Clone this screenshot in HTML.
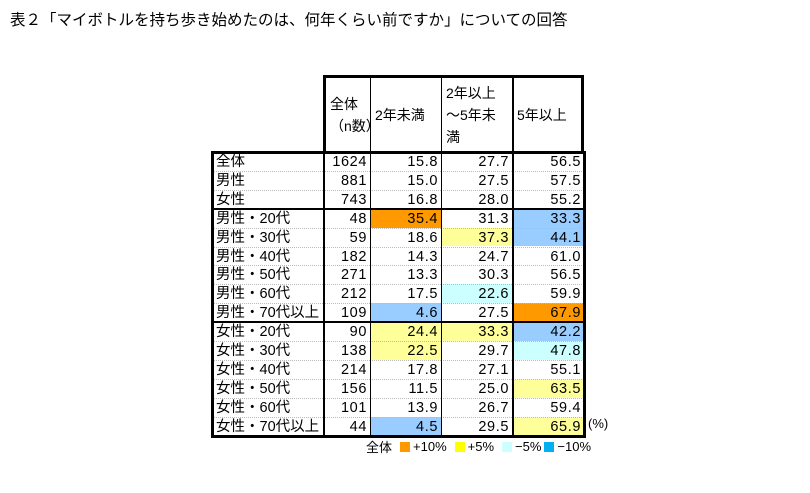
<!DOCTYPE html>
<html><head><meta charset="utf-8"><style>
body{margin:0;width:810px;height:493px;background:#fff;font-family:"Liberation Sans","Noto Sans CJK JP",sans-serif;overflow:hidden;position:relative}
.a{position:absolute;box-sizing:border-box}
.t{font-size:13px;color:#000;white-space:nowrap}
</style></head><body>
<div class="a t" style="left:10px;top:8px;font-size:15.5px">表２「マイボトルを持ち歩き始めたのは、何年くらい前ですか」についての回答</div>
<div id="tbl"></div>
<script>
const rowLabels=["全体","男性","女性","男性・20代","男性・30代","男性・40代","男性・50代","男性・60代","男性・70代以上","女性・20代","女性・30代","女性・40代","女性・50代","女性・60代","女性・70代以上"];
const nValues=[1624,881,743,48,59,182,271,212,109,90,138,214,156,101,44];
const lt2=[15.8,15.0,16.8,35.4,18.6,14.3,13.3,17.5,4.6,24.4,22.5,17.8,11.5,13.9,4.5];
const mid=[27.7,27.5,28.0,31.3,37.3,24.7,30.3,22.6,27.5,33.3,29.7,27.1,25.0,26.7,29.5];
const ge5=[56.5,57.5,55.2,33.3,44.1,61.0,56.5,59.9,67.9,42.2,47.8,55.1,63.5,59.4,65.9];
const colHeaders=["全体<br>（n数）","2年未満","2年以上<br>～5年未<br>満","5年以上"];
const cols=[212,323,370,441,512,584];
const top0=152,rh=18.9;
const colorOf=(v,base)=>{const d=v-base;if(d>=10)return"#ff9900";if(d>=5)return"#ffff99";if(d<=-10)return"#99ccff";if(d<=-5)return"#ccffff";return null;};
const T=document.getElementById('tbl');
function add(html,style){const d=document.createElement('div');d.className='a t';d.style.cssText=style;d.innerHTML=html;T.appendChild(d);return d;}
colHeaders.forEach((h,i)=>{const d=add(h,`left:${cols[i+1]}px;top:75px;width:${cols[i+2]-cols[i+1]}px;height:77px;display:flex;align-items:center;padding-left:4px;line-height:22px;font-size:14px;border-left:${i==0?3:1}px solid #000;`+(i==3?'border-right:3px solid #000;':'')+'border-top:3px solid #000');

});
const series=[nValues,lt2,mid,ge5];
rowLabels.forEach((lab,r)=>{const y=top0+r*rh;
 const l=add(lab,`left:212px;top:${y}px;width:111px;height:${rh}px;padding-left:4px;line-height:${rh}px;font-size:14.5px;border-top:1px dotted #bbb`);
 
 
 series.forEach((s,c)=>{let bg=null;if(c>0)bg=colorOf(s[r],series[c][0]);
  const txt=c==0?String(s[r]):s[r].toFixed(1);
  const d=add(txt,`left:${cols[c+1]}px;top:${y}px;width:${cols[c+2]-cols[c+1]}px;height:${rh}px;text-align:right;padding-right:3px;line-height:${rh}px;font-size:14.5px;letter-spacing:0.6px;border-top:1px dotted #bbb;`+(bg?`background:${bg};`:''));
  
  });
});
function line(s){const d=document.createElement('div');d.className='a';d.style.cssText=s;T.appendChild(d);}
const bot=top0+15*rh;
line(`left:211px;top:${top0-1}px;width:375px;height:${bot-top0+3}px;border:3px solid #000`);
[2,3,4].forEach(i=>line(`left:${cols[i]}px;top:${top0}px;width:1px;height:${bot-top0}px;background:#000`));
line(`left:${cols[1]}px;top:${top0}px;width:2px;height:${bot-top0}px;background:#000`);
line(`left:${cols[4]}px;top:75px;width:2px;height:${bot-75}px;background:#000`);
[3,9].forEach(r=>line(`left:212px;top:${top0+r*rh-1}px;width:372px;height:2px;background:#000`));
</script>
<div class="a t" style="left:588px;top:416px;font-size:13px">(%)</div>
<div class="a" style="left:366px;top:437px;font-size:13px;white-space:nowrap;display:flex;align-items:center;gap:3px">
<span>全体</span>
<span style="display:inline-block;width:10px;height:10px;background:#ff9900;margin-left:5px"></span><span>+10%</span>
<span style="display:inline-block;width:10px;height:10px;background:#ffff00;margin-left:5px"></span><span>+5%</span>
<span style="display:inline-block;width:10px;height:10px;background:#ccffff;margin-left:5px"></span><span>−5%</span>
<span style="display:inline-block;width:10px;height:10px;background:#00b0f0"></span><span>−10%</span>
</div>
</body></html>
